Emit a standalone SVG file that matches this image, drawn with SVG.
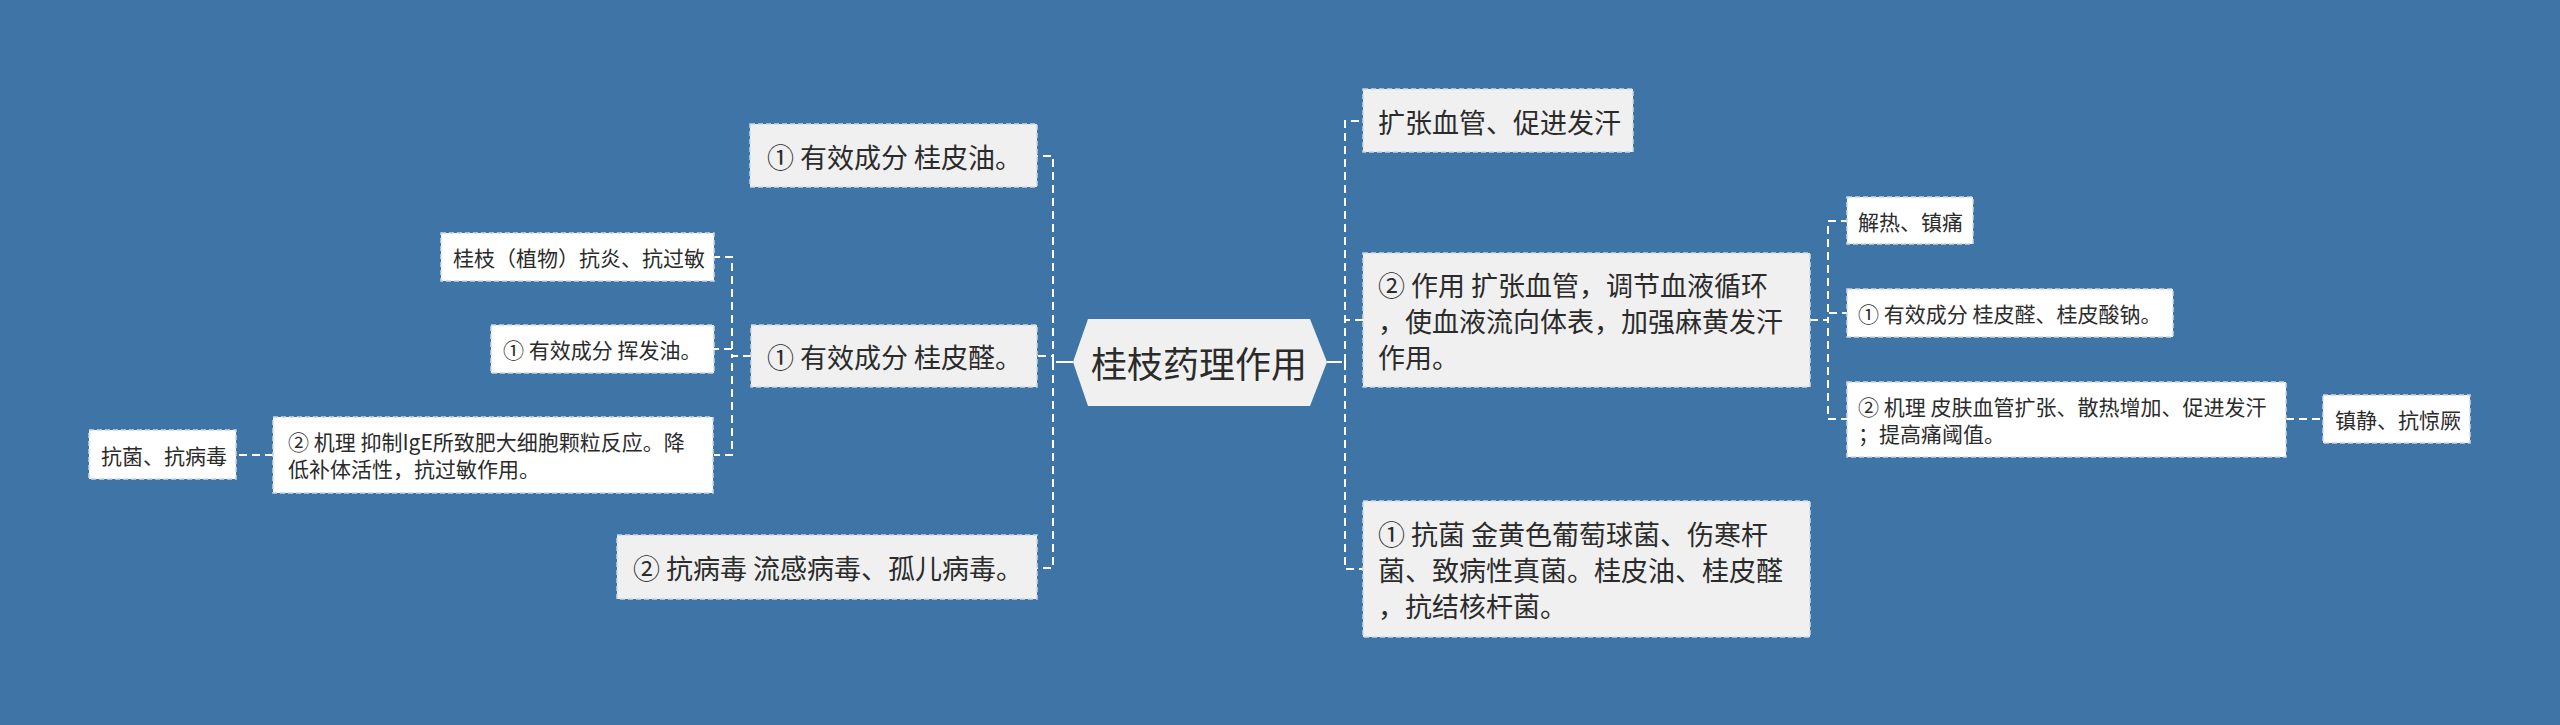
<svg xmlns="http://www.w3.org/2000/svg" width="2560" height="725" viewBox="0 0 2560 725">
<style>
.bg{fill:#3e74a6}
.t{font-family:"Noto Sans CJK SC","Liberation Sans",sans-serif;fill:#2b2b2b;dominant-baseline:central}
.t1{font-size:27px}
.t2{font-size:21px}
.t0{font-size:36px}
.b1{fill:#f0f0f0;stroke:#c9d7e6;stroke-width:1.5;stroke-dasharray:5 3}
.b2{fill:#ffffff;stroke:#c9d7e6;stroke-width:1.5;stroke-dasharray:5 3}
.c{fill:none;stroke:#ffffff;stroke-width:2;stroke-dasharray:8 5}
.cs{fill:none;stroke:#ffffff;stroke-width:2}
</style>
<rect class="bg" x="0" y="0" width="2560" height="725"/>
<g id="connectors">
<path class="cs" d="M1073,362 H1056"/>
<path class="cs" d="M1327,362 H1342"/>
<path class="c" d="M1053,362 V156 H1037"/>
<path class="c" d="M1053,362 V356 H1037"/>
<path class="c" d="M1053,362 V568 H1037"/>
<path class="c" d="M751,356 H732 V257 H714"/>
<path class="c" d="M751,356 H732 V349 H714"/>
<path class="c" d="M751,356 H732 V455 H714"/>
<path class="c" d="M273,455 H236"/>
<path class="c" d="M1345,362 V121 H1363"/>
<path class="c" d="M1345,362 V320 H1363"/>
<path class="c" d="M1345,362 V569 H1363"/>
<path class="c" d="M1810,320 H1828 V221 H1847"/>
<path class="c" d="M1810,320 H1828 V313 H1847"/>
<path class="c" d="M1810,320 H1828 V419 H1847"/>
<path class="c" d="M2286,419 H2323"/>
</g>
<g id="root">
<polygon points="1073,362 1088,319 1310,319 1327,362 1310,406 1088,406" fill="#f0f0f0"/>
<text class="t t0" x="1199" y="362" text-anchor="middle">桂枝药理作用</text>
</g>
<g id="l1">
<rect class="b1" x="750" y="124" width="287" height="63"/>
<text class="t t1" x="767" y="156">① 有效成分 桂皮油。</text>
</g>
<g id="l2">
<rect class="b1" x="751" y="325" width="286" height="62"/>
<text class="t t1" x="767" y="356">① 有效成分 桂皮醛。</text>
</g>
<g id="l3">
<rect class="b1" x="617" y="535" width="420" height="64"/>
<text class="t t1" x="633" y="567">② 抗病毒 流感病毒、孤儿病毒。</text>
</g>
<g id="s1">
<rect class="b2" x="441" y="233" width="273" height="48"/>
<text class="t t2" x="453" y="257">桂枝（植物）抗炎、抗过敏</text>
</g>
<g id="s2">
<rect class="b2" x="491" y="325" width="223" height="48"/>
<text class="t t2" x="503" y="349">① 有效成分 挥发油。</text>
</g>
<g id="s3">
<rect class="b2" x="273" y="417" width="440" height="76"/>
<text class="t t2" x="288" y="441">② 机理 抑制IgE所致肥大细胞颗粒反应。降</text>
<text class="t t2" x="288" y="468">低补体活性，抗过敏作用。</text>
</g>
<g id="s4">
<rect class="b2" x="89" y="430" width="147" height="49"/>
<text class="t t2" x="101" y="455">抗菌、抗病毒</text>
</g>
<g id="r1">
<rect class="b1" x="1363" y="89" width="270" height="63"/>
<text class="t t1" x="1378" y="121">扩张血管、促进发汗</text>
</g>
<g id="r2">
<rect class="b1" x="1363" y="253" width="447" height="134"/>
<text class="t t1" x="1378" y="284">② 作用 扩张血管，调节血液循环</text>
<text class="t t1" x="1378" y="320">，使血液流向体表，加强麻黄发汗</text>
<text class="t t1" x="1378" y="356">作用。</text>
</g>
<g id="r3">
<rect class="b1" x="1363" y="501" width="447" height="136"/>
<text class="t t1" x="1378" y="533">① 抗菌 金黄色葡萄球菌、伤寒杆</text>
<text class="t t1" x="1378" y="569">菌、致病性真菌。桂皮油、桂皮醛</text>
<text class="t t1" x="1378" y="605">，抗结核杆菌。</text>
</g>
<g id="s5">
<rect class="b2" x="1847" y="197" width="126" height="47"/>
<text class="t t2" x="1858" y="221">解热、镇痛</text>
</g>
<g id="s6">
<rect class="b2" x="1847" y="289" width="326" height="48"/>
<text class="t t2" x="1858" y="313">① 有效成分 桂皮醛、桂皮酸钠。</text>
</g>
<g id="s7">
<rect class="b2" x="1847" y="382" width="439" height="75"/>
<text class="t t2" x="1858" y="406">② 机理 皮肤血管扩张、散热增加、促进发汗</text>
<text class="t t2" x="1858" y="433">；提高痛阈值。</text>
</g>
<g id="s8">
<rect class="b2" x="2323" y="395" width="147" height="48"/>
<text class="t t2" x="2335" y="419">镇静、抗惊厥</text>
</g>
</svg>
